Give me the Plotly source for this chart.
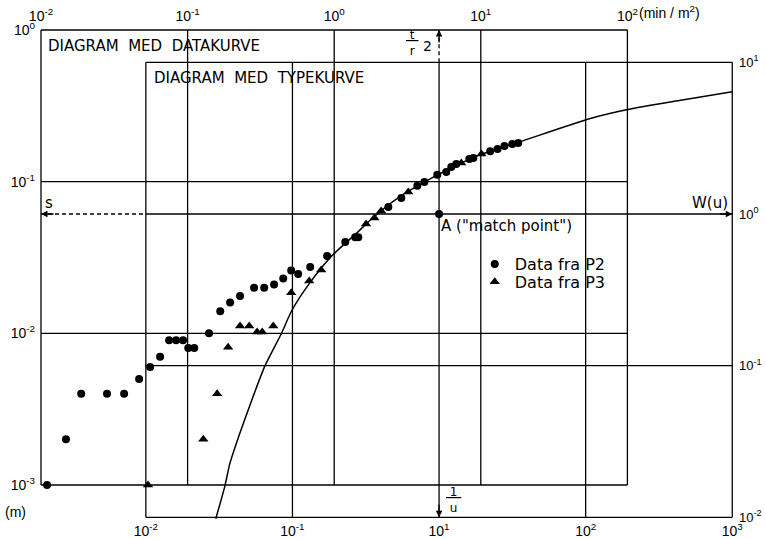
import math
import plotly.graph_objects as go

# ---------------- data diagram (observed): t/r^2 [min/m^2] vs s [m] ----------------
p2_t = [0.011, 0.0148, 0.0188, 0.0282, 0.0369, 0.0467, 0.0555, 0.0649, 0.0748, 0.0835,
        0.0931, 0.101, 0.111, 0.140, 0.167, 0.195, 0.228, 0.284, 0.333, 0.389,
        0.449, 0.509, 0.568, 0.686, 0.895, 1.19, 1.39, 1.46, 2.34, 2.87,
        3.69, 4.12, 5.05, 5.81, 6.29, 6.80, 8.35, 8.89, 11.6, 13.0,
        14.5, 16.4, 18.0]
p2_s = [0.001, 0.002, 0.004, 0.004, 0.004, 0.005, 0.006, 0.007, 0.009, 0.009,
        0.009, 0.008, 0.008, 0.010, 0.014, 0.016, 0.0176, 0.020, 0.020, 0.021,
        0.023, 0.026, 0.0246, 0.0274, 0.0324, 0.040, 0.043, 0.043, 0.068, 0.078,
        0.094, 0.0995, 0.111, 0.116, 0.125, 0.131, 0.141, 0.143, 0.159, 0.164,
        0.172, 0.177, 0.180]

p3_t = [0.0537, 0.128, 0.159, 0.189, 0.228, 0.263, 0.298, 0.323, 0.384,
        0.509, 0.675, 0.815, 1.65, 1.88, 2.09, 3.20, 7.36, 10.1]
p3_s = [0.001, 0.002, 0.004, 0.0081, 0.0112, 0.0112, 0.0102, 0.0102, 0.0112,
        0.0185, 0.0221, 0.0262, 0.0526, 0.0576, 0.064, 0.0855, 0.133, 0.152]

# ---------------- type curve (Theis): 1/u vs W(u) ----------------
curve_inv_u = [0.30, 0.345, 0.374, 0.437, 0.536, 0.647, 0.841, 0.984, 1.31,
               1.88, 2.74, 3.52, 5.38, 9.77, 18.9, 35.4, 106.0, 190.0, 435.0, 1000.0]
curve_w = [0.0098, 0.0159, 0.0226, 0.0357, 0.0617, 0.0989, 0.163, 0.2285, 0.350,
           0.536, 0.749, 0.941, 1.295, 1.81, 2.455, 2.99, 4.25, 4.87, 5.61, 6.40]

# match point A, in both coordinate systems
match_type = (10.0, 1.0)      # (1/u, W(u))
match_data = (5.19, 0.0612)   # (t/r^2, s)

# grid decades of the two diagrams
data_t_grid = [0.01, 0.1, 1, 10, 100]
data_s_grid = [0.001, 0.01, 0.1, 1]
type_u_grid = [0.1, 1, 10, 100, 1000]
type_w_grid = [0.01, 0.1, 1, 10]

# tick labels as printed on the original figure
top_ticktext = ["10<sup>-2</sup>", "10<sup>-1</sup>", "10<sup>0</sup>", "10<sup>1</sup>", "10<sup>2</sup>"]
left_ticktext = ["10<sup>-3</sup>", "10<sup>-2</sup>", "10<sup>-1</sup>", "10<sup>0</sup>"]
bottom_ticktext = ["10<sup>-2</sup>", "10<sup>-1</sup>", "10<sup>1</sup>", "10<sup>2</sup>", "10<sup>3</sup>"]
right_ticktext = ["10<sup>-2</sup>", "10<sup>-1</sup>", "10<sup>0</sup>", "10<sup>1</sup>"]

# axis ranges (log10); type ranges follow from the match point
DATA_X_RANGE = [-2.0341, 2.7544]
DATA_Y_RANGE = [-3.2373, 0.033]
dx = math.log10(match_type[0] / match_data[0])
dy = math.log10(match_type[1] / match_data[1])
TYPE_X_RANGE = [r + dx for r in DATA_X_RANGE]
TYPE_Y_RANGE = [r + dy for r in DATA_Y_RANGE]

FONT = "DejaVu Sans"
TICKFONT = "Liberation Sans"
INK = "black"
LW = 1.3


def grid_xy(xs, ys):
    gx, gy = [], []
    for x in xs:
        gx += [x, x, None]
        gy += [ys[0], ys[-1], None]
    for y in ys:
        gx += [xs[0], xs[-1], None]
        gy += [y, y, None]
    return gx, gy


fig = go.Figure()

gx, gy = grid_xy(data_t_grid, data_s_grid)
fig.add_trace(go.Scatter(x=gx, y=gy, xaxis="x2", yaxis="y2", mode="lines",
                         line=dict(color=INK, width=LW), showlegend=False, hoverinfo="skip"))
gx, gy = grid_xy(type_u_grid, type_w_grid)
fig.add_trace(go.Scatter(x=gx, y=gy, xaxis="x", yaxis="y", mode="lines",
                         line=dict(color=INK, width=LW), showlegend=False, hoverinfo="skip"))

# dashed construction lines from the match point to the data axes
t_box_left = type_u_grid[0] * match_data[0] / match_type[0]
s_box_top = type_w_grid[-1] * match_data[1] / match_type[1]
fig.add_trace(go.Scatter(
    x=[data_t_grid[0], t_box_left, None, match_data[0], match_data[0]],
    y=[match_data[1], match_data[1], None, s_box_top, data_s_grid[-1]],
    xaxis="x2", yaxis="y2", mode="lines",
    line=dict(color=INK, width=LW, dash="4px,3px"), showlegend=False, hoverinfo="skip"))

# type curve
fig.add_trace(go.Scatter(x=curve_inv_u, y=curve_w, xaxis="x", yaxis="y", mode="lines",
                         line=dict(color=INK, width=1.5, shape="spline", smoothing=0.6),
                         showlegend=False, hoverinfo="skip"))

# match point
fig.add_trace(go.Scatter(x=[match_type[0]], y=[match_type[1]], xaxis="x", yaxis="y",
                         mode="markers", marker=dict(color=INK, size=8),
                         showlegend=False, hoverinfo="skip"))

# observed data
fig.add_trace(go.Scatter(x=p2_t, y=p2_s, xaxis="x2", yaxis="y2", mode="markers",
                         name="Data fra P2", legend="legend",
                         marker=dict(symbol="circle", color=INK, size=8)))
fig.add_trace(go.Scatter(x=p3_t, y=p3_s, xaxis="x2", yaxis="y2", mode="markers",
                         name="Data fra P3", legend="legend2",
                         marker=dict(symbol="triangle-up", color=INK, size=9)))

ax_common = dict(type="log", showgrid=False, zeroline=False, showline=False, ticks="",
                 tickmode="array", automargin=False,
                 tickfont=dict(family=TICKFONT, size=14, color=INK))

leg_common = dict(xanchor="left", yanchor="middle", bgcolor="rgba(0,0,0,0)",
                  font=dict(family=FONT, size=16, color=INK), itemwidth=30)

fig.update_layout(
    width=766, height=539, autosize=False,
    margin=dict(l=36, r=28, t=25, b=18, autoexpand=False),
    paper_bgcolor="white", plot_bgcolor="white",
    font=dict(family=FONT, color=INK, size=14),
    xaxis=dict(ax_common, range=TYPE_X_RANGE, side="bottom", anchor="y",
               tickvals=type_u_grid, ticktext=bottom_ticktext),
    yaxis=dict(ax_common, range=TYPE_Y_RANGE, side="right", anchor="x",
               tickvals=type_w_grid, ticktext=right_ticktext,
               tickfont=dict(family=TICKFONT, size=13, color=INK)),
    xaxis2=dict(ax_common, range=DATA_X_RANGE, side="top", anchor="y2", overlaying="x",
                tickvals=data_t_grid, ticktext=top_ticktext),
    yaxis2=dict(ax_common, range=DATA_Y_RANGE, side="left", anchor="x2", overlaying="y",
                tickvals=data_s_grid, ticktext=left_ticktext),
    legend=dict(leg_common, x=0.625, y=0.518),
    legend2=dict(leg_common, x=0.625, y=0.482),
    showlegend=True,
    hovermode=False,
)

L = math.log10
ann = []
ann.append(dict(x=L(data_t_grid[0]), y=L(data_s_grid[-1]), xref="x2", yref="y2",
                xanchor="left", yanchor="top", xshift=5, yshift=-5, showarrow=False,
                text="DIAGRAM  MED  DATAKURVE", font=dict(size=15)))
ann.append(dict(x=L(type_u_grid[0]), y=L(type_w_grid[-1]), xref="x", yref="y",
                xanchor="left", yanchor="top", xshift=6, yshift=-5, showarrow=False,
                text="DIAGRAM  MED  TYPEKURVE", font=dict(size=15)))
ann.append(dict(x=L(match_type[0]), y=L(match_type[1]), xref="x", yref="y",
                xanchor="left", yanchor="top", xshift=0, yshift=-1, showarrow=False,
                text='A ("match point")', font=dict(size=15)))
ann.append(dict(x=L(data_t_grid[0]), y=L(match_data[1]), xref="x2", yref="y2",
                xanchor="left", yanchor="bottom", xshift=2, yshift=0, showarrow=False,
                text="s", font=dict(size=15)))
ann.append(dict(x=L(type_u_grid[-1]), y=L(match_type[1]), xref="x", yref="y",
                xanchor="right", yanchor="bottom", xshift=-2, yshift=0, showarrow=False,
                text="W(u)", font=dict(size=15)))
ann.append(dict(x=L(match_data[0]), y=L(data_s_grid[-1]), xref="x2", yref="y2",
                xanchor="center", yanchor="top", xshift=-27, yshift=4, showarrow=False,
                text="<u>\u00a0t\u00a0</u><br>r", font=dict(size=12)))
ann.append(dict(x=L(match_data[0]), y=L(data_s_grid[-1]), xref="x2", yref="y2",
                xanchor="center", yanchor="top", xshift=-12, yshift=-6, showarrow=False,
                text="2", font=dict(size=14)))
ann.append(dict(x=L(match_type[0]), y=L(type_w_grid[0]), xref="x", yref="y",
                xanchor="center", yanchor="bottom", xshift=14, yshift=0, showarrow=False,
                text="<u>\u00a01\u00a0</u><br>u", font=dict(size=12)))
ann.append(dict(x=L(data_t_grid[-1]), y=1, xref="x2", yref="paper",
                xanchor="left", yanchor="bottom", xshift=10, yshift=2, showarrow=False,
                text="(min / m<sup>2</sup>)", font=dict(family=TICKFONT, size=14)))
ann.append(dict(x=0, y=0, xref="paper", yref="paper",
                xanchor="right", yanchor="middle", xshift=-8, yshift=9, showarrow=False,
                text="(m)", font=dict(family=TICKFONT, size=14)))

arrow = dict(text="", showarrow=True, arrowhead=2, arrowsize=1, arrowwidth=LW,
             arrowcolor=INK, standoff=0)
ann.append(dict(arrow, x=L(data_t_grid[0]), y=L(match_data[1]), xref="x2", yref="y2", ax=14, ay=0))
ann.append(dict(arrow, x=L(match_data[0]), y=L(data_s_grid[-1]), xref="x2", yref="y2", ax=0, ay=14))
ann.append(dict(arrow, x=L(match_type[0]), y=L(type_w_grid[0]), xref="x", yref="y", ax=0, ay=-14))
ann.append(dict(arrow, x=L(type_u_grid[-1]), y=L(match_type[1]), xref="x", yref="y", ax=-14, ay=0))

fig.update_layout(annotations=ann)
fig.write_html("out.html", config={"displayModeBar": False},
               post_script="document.body.style.margin='0px';document.body.style.overflow='hidden';")
